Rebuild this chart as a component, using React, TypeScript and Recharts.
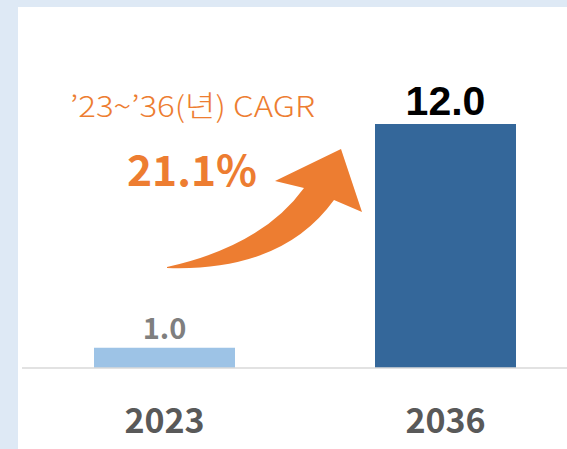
import { BarChart, Bar, XAxis, YAxis, Cell, LabelList } from "recharts"

const years = ["2023", "2036"]
const values = [1.0, 12.0]
const cagrLabel = "’23~’36(년) CAGR"
const cagrValue = "21.1%"

const BAR_COLORS = ["#9dc3e6", "#34679a"]
const LABEL_STYLE = [
    { fill: "#7f7f7f", fontSize: 29, fontFamily: "'Noto Sans CJK KR', sans-serif" },
    { fill: "#000000", fontSize: 41, fontFamily: "'Liberation Sans', Arial, sans-serif" },
]
const ORANGE = "#ed7d31"

const data = years.map((year, i) => ({ year, value: values[i] }))

function ValueLabel(props: any) {
    const { x, y, width, index, value } = props
    const s = LABEL_STYLE[index] || LABEL_STYLE[0]
    return (
        <text x={x + width / 2} y={y - 9} textAnchor="middle" fontWeight="bold" {...s}>
            {Number(value).toFixed(1)}
        </text>
    )
}

function YearTick(props: any) {
    const { x, y, payload } = props
    return (
        <text x={x} y={y + 57} textAnchor="middle" fontWeight="bold" fontSize={34}
              fill="#595959" fontFamily="'Noto Sans CJK KR', sans-serif">
            {payload.value}
        </text>
    )
}

export default function App() {
    return (
        <div style={{ position: "absolute", left: 0, top: 0, width: 567, height: 449, overflow: "hidden", background: "#dee9f5" }}>
            <div style={{ position: "absolute", left: 18, top: 7, right: 0, bottom: 0, background: "#ffffff" }} />
            <div style={{ position: "absolute", left: 0, top: 0 }}>
                <BarChart width={586} height={449} data={data}
                          margin={{ top: 124, right: 0, bottom: 0, left: 22 }}>
                    <XAxis dataKey="year" height={81} padding={{ left: 2, right: 0 }}
                           axisLine={{ stroke: "#d9d9d9", strokeWidth: 1.5 }} tickLine={false}
                           tick={<YearTick />} interval={0} />
                    <YAxis hide domain={[0, 12]} />
                    <Bar dataKey="value" barSize={141} isAnimationActive={false}>
                        {data.map((d, i) => (
                            <Cell key={d.year} fill={BAR_COLORS[i]} />
                        ))}
                        <LabelList dataKey="value" content={<ValueLabel />} />
                    </Bar>
                </BarChart>
            </div>
            <svg width={567} height={449} style={{ position: "absolute", left: 0, top: 0, pointerEvents: "none" }}>
                <text x={70} y={117} fontSize={29} fill={ORANGE} textLength={245} lengthAdjust="spacingAndGlyphs"
                      fontWeight={300} fontFamily="'Noto Sans CJK KR', sans-serif">
                    {cagrLabel}
                </text>
                <text x={127} y={186} fontSize={42} fontWeight="bold" fill={ORANGE}
                      textLength={130} lengthAdjust="spacingAndGlyphs"
                      fontFamily="'Noto Sans CJK KR', sans-serif">
                    {cagrValue}
                </text>
                <path d="M 167 267 Q 262 246 304 188 L 275 181 L 341 149 L 362 212 L 334 200 Q 282 272 167 268 Z"
                      fill={ORANGE} />
            </svg>
        </div>
    )
}
